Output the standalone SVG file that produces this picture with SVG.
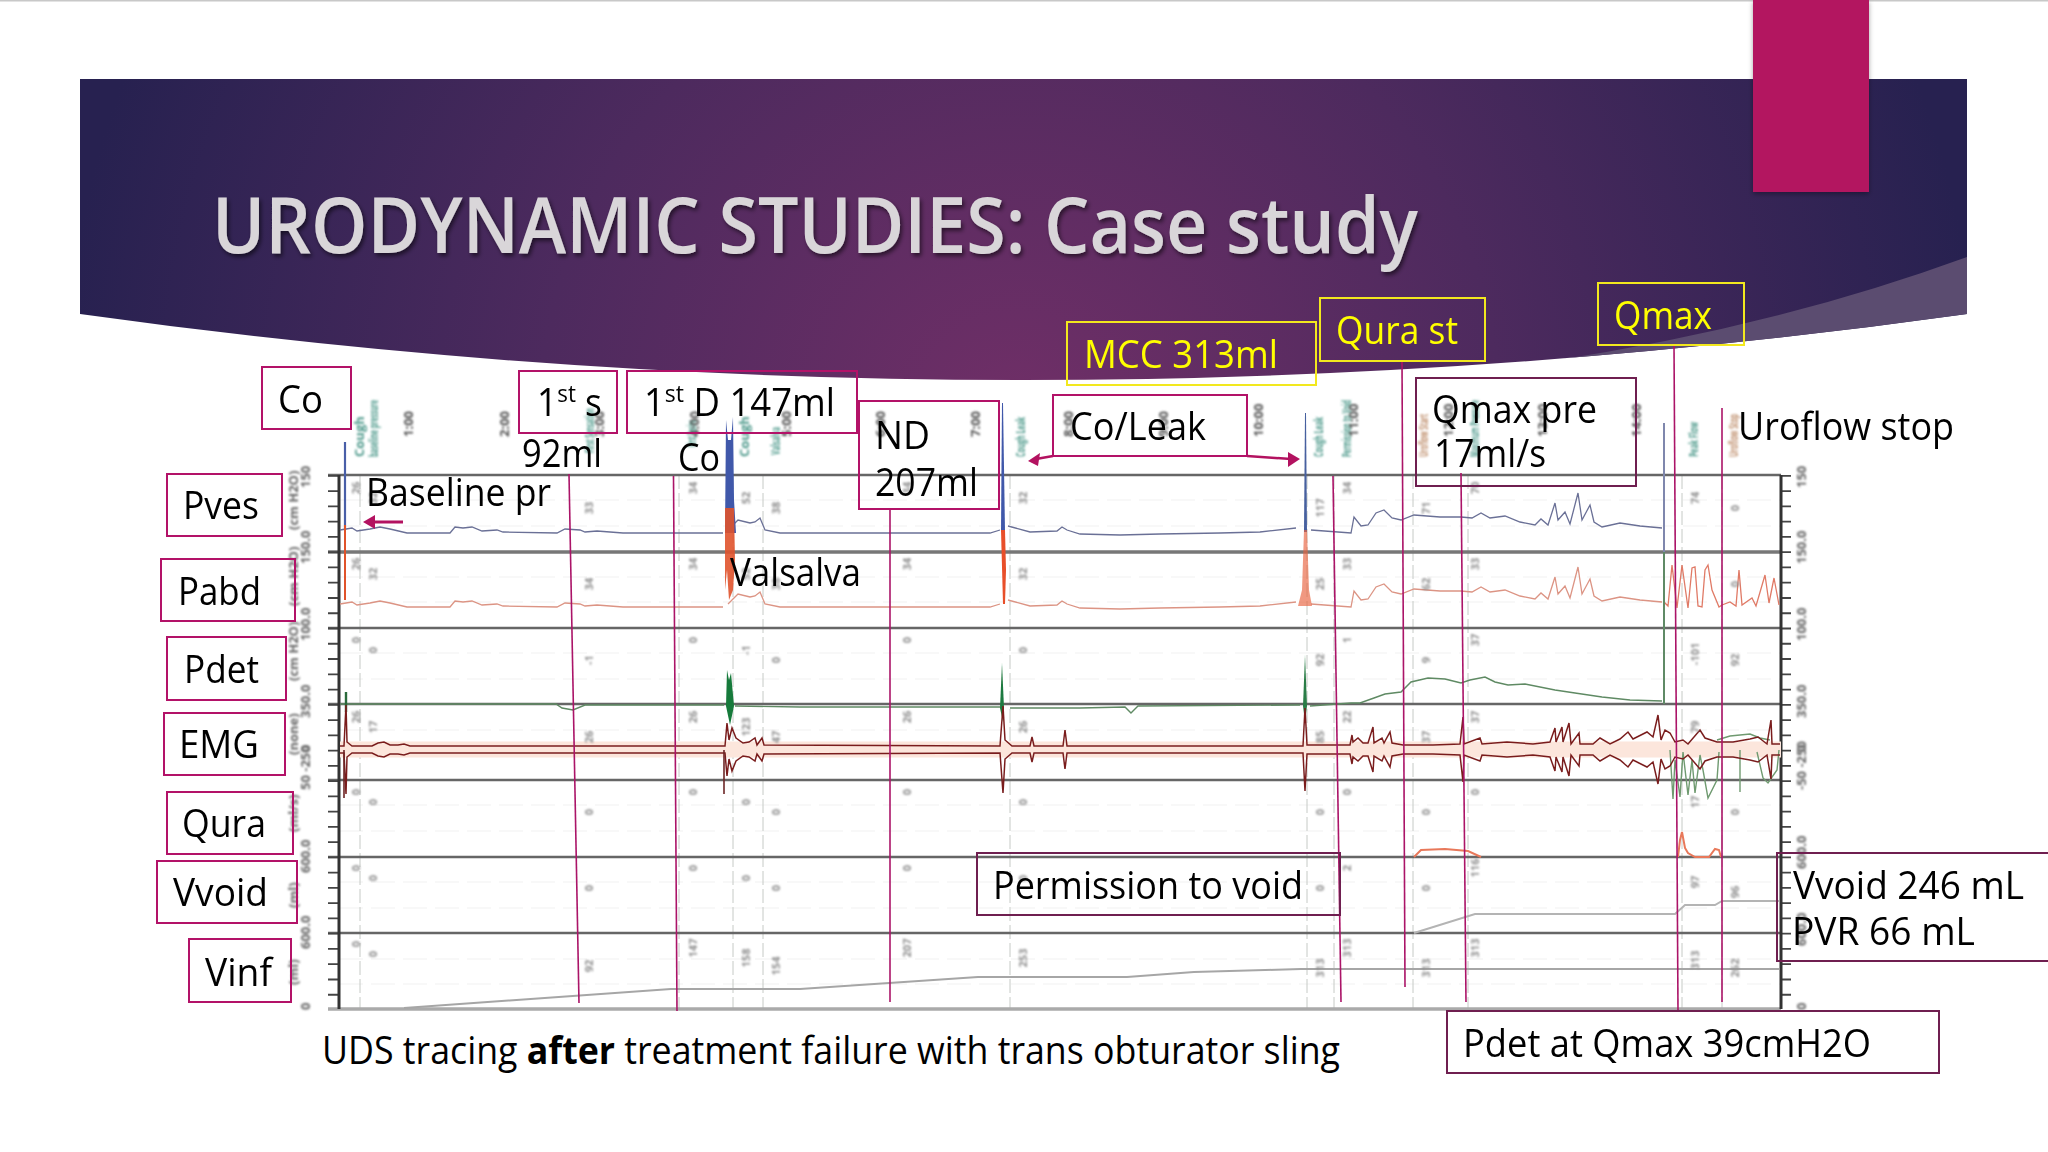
<svg xmlns="http://www.w3.org/2000/svg" xmlns:xlink="http://www.w3.org/1999/xlink" width="2048" height="1152" viewBox="0 0 2048 1152">
<style>
text{font-family:"Open Sans","Noto Sans","Liberation Sans",sans-serif}
.l{font-size:38px;fill:#000;transform:translateY(1px)}
.y{font-size:38px;fill:#ffff00;transform:translateY(1px)}
.b{fill:none;stroke:#b31268;stroke-width:2}
.d{fill:none;stroke:#6f1f50;stroke-width:2}
.yb{fill:none;stroke:#f2e81e;stroke-width:2}
.c{fill:none;stroke:#ab1468;stroke-width:1.6}
.ev{font-size:13px;fill:#4f9a8c;font-weight:700}
.ev2{font-size:13px;fill:#c0906e;font-weight:700}
.tm{font-size:13px;fill:#555;font-weight:700}
.ax{font-size:13px;fill:#666;font-weight:700}
.v{font-size:11px;fill:#8f8f8f;font-weight:700;text-anchor:middle}
.m{stroke:#666;stroke-width:2.4;fill:none}
.das{stroke:#c6cac6;stroke-width:1;stroke-dasharray:14 4;fill:none}
.grid{stroke:#f1f1f1;stroke-width:1;stroke-dasharray:24 8;fill:none}
</style>
<defs>
<radialGradient id="hg" gradientUnits="userSpaceOnUse" cx="1020" cy="420" r="960">
<stop offset="0" stop-color="#702f67"/><stop offset=".5" stop-color="#4d2a5e"/><stop offset="1" stop-color="#272150"/>
</radialGradient>
<clipPath id="hc"><path d="M80,79 H1967 V314 Q1023,446 80,314 Z"/></clipPath>
<filter id="ts" x="-5%" y="-20%" width="110%" height="140%"><feDropShadow dx="2" dy="3" stdDeviation="2" flood-color="#000" flood-opacity=".55"/></filter>
<filter id="tab" x="-10%" y="-10%" width="120%" height="120%"><feDropShadow dx="0" dy="2" stdDeviation="2.5" flood-color="#000" flood-opacity=".35"/></filter>
<filter id="bl"><feGaussianBlur stdDeviation=".6"/></filter>
<filter id="bl2"><feGaussianBlur stdDeviation="1"/></filter>
<path id="tr" d="M340,530 L352,528 357,531 370,529 380,527 390,529 407,533 450,533 455,527 463,528 472,527 482,531 497,530 503,532 557,533 565,529 580,530 585,532 597,531 623,533 723,533 M728,530 733,525 738,520 750,523 755,522 760,518 765,530 780,533 880,533 990,533 1000,530 M1008,526 1030,532 1057,531 1062,527 1067,530 1080,534 1120,535 1160,534 1220,533 1260,532 1296,528 M1311,530 1351,533 1354,517 1361,526 1368,525 1376,513 1384,510 1392,518 1401,520 1414,515 1440,517 1461,517 1472,518 1481,513 1490,518 1505,516 1520,522 1535,525 1541,519 1548,525 1555,503 1558,520 1565,512 1570,524 1578,493 1582,520 1590,505 1594,522 1602,527 1620,523 1640,526 1662,528"/>
<path id="emg" d="M340,746 L344,746 346,705 347,742 352,746 372,746 378,743 384,742 390,745 398,745 404,744 410,746 725,746 727,723 729,740 732,728 736,738 743,743 749,742 755,738 757,745 762,738 764,745 1000,746 1003,706 1005,740 1012,746 1030,746 1032,737 1034,746 1063,746 1065,730 1067,746 1303,746 1305,708 1307,745 1350,745 1352,735 1353,742 1358,738 1363,743 1368,743 1373,727 1374,743 1382,738 1384,743 1390,732 1392,743 1403,745 1433,745 1460,744 1463,717 1464,744 1480,738 1482,744 1507,742 1533,744 1550,742 1555,728 1556,742 1562,727 1563,742 1569,723 1571,744 1579,733 1580,744 1593,744 1600,738 1610,744 1620,739 1628,732 1633,739 1647,732 1653,737 1658,715 1661,740 1665,730 1670,733 1675,742 1683,740 1688,744 1700,730 1705,738 1717,742 1733,742 1750,739 1758,737 1767,744 1771,720 1772,744 1780,744"/>
</defs>

<rect width="2048" height="1152" fill="#fff"/>
<rect x="0" y="0" width="2048" height="1.5" fill="#c8c8c8"/>

<g id="banner">
<path d="M80,79 H1967 V314 Q1023,446 80,314 Z" fill="url(#hg)"/>
<path d="M1967,257 Q1740,340 1470,372 L1470,420 H1967 Z" fill="#5b4c70" clip-path="url(#hc)"/>
<rect x="1753" y="0" width="116" height="192" fill="#b31260" filter="url(#tab)"/>
<text x="212" y="253" font-size="78" font-weight="600" fill="#d9d6d9" filter="url(#ts)" textLength="1206" lengthAdjust="spacingAndGlyphs">URODYNAMIC STUDIES: Case study</text>
</g>

<g id="chart">
<g filter="url(#bl)">
<path class="grid" d="M339,500H1781M339,526H1781M339,577H1781M339,602H1781M339,653H1781M339,679H1781M339,730H1781M339,755H1781M339,805H1781M339,831H1781M339,882H1781M339,908H1781M339,959H1781M339,984H1781"/>
<path class="das" d="M360,475V1009M679,475V1009M733,475V1009M763,475V1009M1010,475V1009M1307,475V1009M1334,475V1009M1413,475V1009M1468,475V1009M1682,475V1009M1722,475V1009"/>
<path class="m" d="M328,475H1781M328,628H1781M328,704H1781M328,780H1781M328,857H1781M328,933H1781"/>
<path d="M328,552H1781" stroke="#777" stroke-width="3.4" fill="none"/>
<path d="M328,1009H1781" stroke="#aaa" stroke-width="3.6" fill="none"/>
<path d="M333.5,475V1009M1785.5,475V1009" stroke="#444" stroke-width="11" stroke-dasharray="1.8 13.46" fill="none"/>
<path d="M339,475V1009M1781,475V1009" stroke="#333" stroke-width="3" fill="none"/>

<!-- Pves / Pabd -->
<use href="#tr" fill="none" stroke="#6a7096" stroke-width="1.3"/>
<use href="#tr" fill="none" stroke="#dc9484" stroke-width="1.3" transform="translate(0,74)"/>
<path d="M345,530V442" stroke="#4a5fa8" stroke-width="2.2" fill="none"/>
<path d="M725,533 L726,420 728,440 731,440 733,417 734,500 736,533 Z" fill="#3f58aa"/>
<path d="M725,508 L734,508 735,560 733,590 729,600 727,570 725,590 Z" fill="#e0532c" opacity=".9"/>
<path d="M1001,532 L1002,403 1003,403 1005,532 Z" fill="#3f58aa"/>
<path d="M1001,530 L1005,530 1006,570 1005,604 1003,604 Z" fill="#e8502a"/>
<path d="M1304,532 L1305,413 1306,413 1307,532 Z" fill="#46609f"/>
<path d="M1304,530 L1307,530 1309,590 1312,606 1298,606 1302,590 Z" fill="#e8623e" opacity=".65"/>
<path d="M345,525V600" stroke="#e0532c" stroke-width="2" fill="none"/>
<path d="M1664,423V552" stroke="#7f87ad" stroke-width="2" fill="none"/>
<path d="M1664,602 L1668,606 1672,565 1677,608 1682,565 1688,608 1692,568 1695,567 1698,606 1702,607 1705,570 1708,565 1712,590 1719,607 1722,605 1730,602 1736,606 1739,570 1742,605 1752,598 1756,606 1765,575 1769,603 1774,578 1779,605" fill="none" stroke="#e07a66" stroke-width="1.3"/>

<!-- Pdet -->
<path d="M340,704 H556 L562,708 573,710 585,705 H724 M735,706 L800,707 1000,707 M1010,708 1080,708 1125,707 1131,713 1138,706 1300,705 M1310,706 1351,703 1360,703 1374,698 1385,694 1401,692 1411,682 1428,678 1445,679 1461,683 1470,680 1485,677 1495,682 1508,685 1525,684 1555,690 1575,693 1602,697 1630,700 1662,701" fill="none" stroke="#5f8a64" stroke-width="1.4"/>
<path d="M346,692V712" stroke="#2c6b3a" stroke-width="2.4" fill="none"/>
<path d="M726,706 L727,670 729,680 731,673 734,706 730,725 Z" fill="#157a3a"/>
<path d="M1000,708 L1002,663 1004,708 1003,722 Z" fill="#1f7a3f"/>
<path d="M1303,706 L1305,655 1307,706 1305,722 Z" fill="#2a7d46"/>
<path d="M1664,552V704" stroke="#5f8a66" stroke-width="2" fill="none"/>

<!-- EMG -->
<path d="M340,749.5H1781" stroke="#fce6dc" stroke-width="16" fill="none"/>
<path d="M1717,740 1730,736 1750,734 1760,738 1770,740M1670,750 1673,799 1675,760 1680,797 1683,752 1688,795 1692,760 1695,793 1700,755 1703,770 1708,798 1717,780 1719,752M1740,750V792M1757,752 1763,778 1768,783 1777,770 1779,750" fill="none" stroke="#6f9a70" stroke-width="1.4"/>
<use href="#emg" fill="none" stroke="#7a1f1f" stroke-width="1.5"/>
<use href="#emg" fill="none" stroke="#7a1f1f" stroke-width="1.5" transform="translate(0,1499) scale(1,-1)"/>
<path d="M724,750V794M344,750V798" stroke="#6d2525" stroke-width="1.6" fill="none"/>

<!-- Qura -->
<path d="M1414,857 L1421,850 1445,849 1468,851 1481,857 M1678,857 L1680,840 1682,832 1685,848 1688,853 1695,857 1709,857 1715,849 1719,850 1721,857" fill="none" stroke="#e8785a" stroke-width="2"/>
<!-- Vvoid / Vinf -->
<path d="M1414,933 L1475,914 H1675 L1685,905 H1715 L1722,901 H1779" fill="none" stroke="#b4b4b4" stroke-width="2"/>
<path d="M404,1008 L671,989 H800 L978,977 H1127 L1194,972 1301,969 H1779" fill="none" stroke="#a6a6a6" stroke-width="2"/>
</g>

<g filter="url(#bl2)">
<!-- time + event labels -->
<text class="ev" transform="translate(364,457) rotate(-90)">Cough</text>
<text class="ev" transform="translate(378,457) rotate(-90)" textLength="57" lengthAdjust="spacingAndGlyphs">baseline pressure</text>
<text class="tm" transform="translate(413,437) rotate(-90)">1:00</text>
<text class="tm" transform="translate(509,437) rotate(-90)">2:00</text>
<text class="ev" transform="translate(594,453) rotate(-90)" textLength="45" lengthAdjust="spacingAndGlyphs">First Sensation</text>
<text class="tm" transform="translate(604,437) rotate(-90)">3:00</text>
<text class="ev" transform="translate(696,447) rotate(-90)" textLength="27" lengthAdjust="spacingAndGlyphs">First Desire</text>
<text class="tm" transform="translate(699,437) rotate(-90)">4:00</text>
<text class="ev" transform="translate(749,457) rotate(-90)">Cough</text>
<text class="ev" transform="translate(780,455) rotate(-90)" textLength="28" lengthAdjust="spacingAndGlyphs">Valsalva</text>
<text class="tm" transform="translate(791,437) rotate(-90)">5:00</text>
<text class="tm" transform="translate(885,437) rotate(-90)">6:00</text>
<text class="tm" transform="translate(980,437) rotate(-90)">7:00</text>
<text class="ev" transform="translate(1025,457) rotate(-90)" textLength="40" lengthAdjust="spacingAndGlyphs">Cough Leak</text>
<text class="tm" transform="translate(1073,437) rotate(-90)">8:00</text>
<text class="tm" transform="translate(1168,437) rotate(-90)">9:00</text>
<text class="tm" transform="translate(1263,437) rotate(-90)">10:00</text>
<text class="ev" transform="translate(1323,457) rotate(-90)" textLength="40" lengthAdjust="spacingAndGlyphs">Cough Leak</text>
<text class="ev" transform="translate(1351,457) rotate(-90)" textLength="57" lengthAdjust="spacingAndGlyphs">Permission to Void</text>
<text class="tm" transform="translate(1358,437) rotate(-90)">11:00</text>
<text class="ev2" transform="translate(1428,457) rotate(-90)" textLength="43" lengthAdjust="spacingAndGlyphs">Uroflow Start</text>
<text class="tm" transform="translate(1453,437) rotate(-90)">12:00</text>
<text class="ev" transform="translate(1479,457) rotate(-90)" textLength="57" lengthAdjust="spacingAndGlyphs">Maximum Pressure</text>
<text class="tm" transform="translate(1547,437) rotate(-90)">13:00</text>
<text class="tm" transform="translate(1641,437) rotate(-90)">14:00</text>
<text class="ev" transform="translate(1698,457) rotate(-90)" textLength="35" lengthAdjust="spacingAndGlyphs">Peak Flow</text>
<text class="ev2" transform="translate(1738,457) rotate(-90)" textLength="43" lengthAdjust="spacingAndGlyphs">Uroflow Stop</text>

<!-- axis scales -->
<text class="ax" transform="translate(310,488) rotate(-90)">150</text>
<text class="ax" transform="translate(310,564) rotate(-90)">150.0</text>
<text class="ax" transform="translate(310,641) rotate(-90)">100.0</text>
<text class="ax" transform="translate(310,718) rotate(-90)">350.0</text>
<text class="ax" transform="translate(310,752) rotate(-90)">0</text>
<text class="ax" transform="translate(310,790) rotate(-90)">50 -250</text>
<text class="ax" transform="translate(310,873) rotate(-90)">600.0</text>
<text class="ax" transform="translate(310,949) rotate(-90)">600.0</text>
<text class="ax" transform="translate(310,1010) rotate(-90)">0</text>
<text class="ax" transform="translate(298,530) rotate(-90)">(cm H2O)</text>
<text class="ax" transform="translate(298,606) rotate(-90)">(cm H2O)</text>
<text class="ax" transform="translate(298,681) rotate(-90)">(cm H2O)</text>
<text class="ax" transform="translate(298,755) rotate(-90)">(none)</text>
<text class="ax" transform="translate(298,832) rotate(-90)">(ml/s)</text>
<text class="ax" transform="translate(298,908) rotate(-90)">(ml)</text>
<text class="ax" transform="translate(298,985) rotate(-90)">(ml)</text>
<text class="ax" transform="translate(1806,488) rotate(-90)">150</text>
<text class="ax" transform="translate(1806,564) rotate(-90)">150.0</text>
<text class="ax" transform="translate(1806,641) rotate(-90)">100.0</text>
<text class="ax" transform="translate(1806,718) rotate(-90)">350.0</text>
<text class="ax" transform="translate(1806,752) rotate(-90)">0</text>
<text class="ax" transform="translate(1806,790) rotate(-90)">-50 -250</text>
<text class="ax" transform="translate(1806,869) rotate(-90)">600.0</text>
<text class="ax" transform="translate(1806,946) rotate(-90)">600.0</text>
<text class="ax" transform="translate(1806,1010) rotate(-90)">0</text>

<!-- event values -->
<text class="v" transform="translate(360,488) rotate(-90)">26</text><text class="v" transform="translate(360,564) rotate(-90)">26</text><text class="v" transform="translate(360,640) rotate(-90)">0</text><text class="v" transform="translate(360,717) rotate(-90)">26</text><text class="v" transform="translate(360,792) rotate(-90)">0</text><text class="v" transform="translate(360,868) rotate(-90)">0</text><text class="v" transform="translate(360,944) rotate(-90)">0</text>
<text class="v" transform="translate(377,498) rotate(-90)">32</text><text class="v" transform="translate(377,574) rotate(-90)">32</text><text class="v" transform="translate(377,650) rotate(-90)">0</text><text class="v" transform="translate(377,727) rotate(-90)">17</text><text class="v" transform="translate(377,802) rotate(-90)">0</text><text class="v" transform="translate(377,878) rotate(-90)">0</text><text class="v" transform="translate(377,954) rotate(-90)">0</text>
<text class="v" transform="translate(593,508) rotate(-90)">33</text><text class="v" transform="translate(593,584) rotate(-90)">34</text><text class="v" transform="translate(593,660) rotate(-90)">-1</text><text class="v" transform="translate(593,737) rotate(-90)">26</text><text class="v" transform="translate(593,812) rotate(-90)">0</text><text class="v" transform="translate(593,888) rotate(-90)">0</text><text class="v" transform="translate(593,966) rotate(-90)">92</text>
<text class="v" transform="translate(697,488) rotate(-90)">34</text><text class="v" transform="translate(697,564) rotate(-90)">34</text><text class="v" transform="translate(697,640) rotate(-90)">0</text><text class="v" transform="translate(697,717) rotate(-90)">26</text><text class="v" transform="translate(697,792) rotate(-90)">0</text><text class="v" transform="translate(697,868) rotate(-90)">0</text><text class="v" transform="translate(697,948) rotate(-90)">147</text>
<text class="v" transform="translate(750,498) rotate(-90)">52</text><text class="v" transform="translate(750,574) rotate(-90)">52</text><text class="v" transform="translate(750,650) rotate(-90)">-1</text><text class="v" transform="translate(750,727) rotate(-90)">123</text><text class="v" transform="translate(750,802) rotate(-90)">0</text><text class="v" transform="translate(750,878) rotate(-90)">0</text><text class="v" transform="translate(750,958) rotate(-90)">158</text>
<text class="v" transform="translate(780,508) rotate(-90)">38</text><text class="v" transform="translate(780,584) rotate(-90)">38</text><text class="v" transform="translate(780,660) rotate(-90)">0</text><text class="v" transform="translate(780,737) rotate(-90)">47</text><text class="v" transform="translate(780,812) rotate(-90)">0</text><text class="v" transform="translate(780,888) rotate(-90)">0</text><text class="v" transform="translate(780,966) rotate(-90)">154</text>
<text class="v" transform="translate(911,488) rotate(-90)">34</text><text class="v" transform="translate(911,564) rotate(-90)">34</text><text class="v" transform="translate(911,640) rotate(-90)">0</text><text class="v" transform="translate(911,717) rotate(-90)">26</text><text class="v" transform="translate(911,792) rotate(-90)">0</text><text class="v" transform="translate(911,868) rotate(-90)">0</text><text class="v" transform="translate(911,948) rotate(-90)">207</text>
<text class="v" transform="translate(1027,498) rotate(-90)">32</text><text class="v" transform="translate(1027,574) rotate(-90)">32</text><text class="v" transform="translate(1027,650) rotate(-90)">0</text><text class="v" transform="translate(1027,727) rotate(-90)">26</text><text class="v" transform="translate(1027,802) rotate(-90)">0</text><text class="v" transform="translate(1027,878) rotate(-90)">0</text><text class="v" transform="translate(1027,958) rotate(-90)">253</text>
<text class="v" transform="translate(1324,508) rotate(-90)">117</text><text class="v" transform="translate(1324,584) rotate(-90)">25</text><text class="v" transform="translate(1324,660) rotate(-90)">92</text><text class="v" transform="translate(1324,737) rotate(-90)">85</text><text class="v" transform="translate(1324,812) rotate(-90)">0</text><text class="v" transform="translate(1324,888) rotate(-90)">0</text><text class="v" transform="translate(1324,968) rotate(-90)">313</text>
<text class="v" transform="translate(1351,488) rotate(-90)">34</text><text class="v" transform="translate(1351,564) rotate(-90)">33</text><text class="v" transform="translate(1351,640) rotate(-90)">1</text><text class="v" transform="translate(1351,717) rotate(-90)">22</text><text class="v" transform="translate(1351,792) rotate(-90)">0</text><text class="v" transform="translate(1351,868) rotate(-90)">2</text><text class="v" transform="translate(1351,948) rotate(-90)">313</text>
<text class="v" transform="translate(1430,508) rotate(-90)">71</text><text class="v" transform="translate(1430,584) rotate(-90)">62</text><text class="v" transform="translate(1430,660) rotate(-90)">9</text><text class="v" transform="translate(1430,737) rotate(-90)">37</text><text class="v" transform="translate(1430,812) rotate(-90)">0</text><text class="v" transform="translate(1430,888) rotate(-90)">0</text><text class="v" transform="translate(1430,968) rotate(-90)">313</text>
<text class="v" transform="translate(1479,488) rotate(-90)">70</text><text class="v" transform="translate(1479,564) rotate(-90)">33</text><text class="v" transform="translate(1479,640) rotate(-90)">37</text><text class="v" transform="translate(1479,717) rotate(-90)">37</text><text class="v" transform="translate(1479,792) rotate(-90)">0</text><text class="v" transform="translate(1479,868) rotate(-90)">116</text><text class="v" transform="translate(1479,948) rotate(-90)">313</text>
<text class="v" transform="translate(1699,498) rotate(-90)">74</text><text class="v" transform="translate(1699,654) rotate(-90)">-101</text><text class="v" transform="translate(1699,727) rotate(-90)">79</text><text class="v" transform="translate(1699,802) rotate(-90)">17</text><text class="v" transform="translate(1699,882) rotate(-90)">97</text><text class="v" transform="translate(1699,960) rotate(-90)">313</text>
<text class="v" transform="translate(1739,508) rotate(-90)">0</text><text class="v" transform="translate(1739,584) rotate(-90)">0</text><text class="v" transform="translate(1739,660) rotate(-90)">92</text><text class="v" transform="translate(1739,812) rotate(-90)">0</text><text class="v" transform="translate(1739,892) rotate(-90)">96</text><text class="v" transform="translate(1739,968) rotate(-90)">262</text>
</g>
</g>

<g id="connectors">
<path class="c" d="M569,474L579,1003"/>
<path class="c" d="M673.5,476L677,1011"/>
<path class="c" d="M890,509V1002"/>
<path class="c" d="M1333,476L1341,1002"/>
<path class="c" d="M1402,361L1405,987"/>
<path class="c" d="M1461,473L1466,1002"/>
<path class="c" d="M1674,345L1678,1011"/>
<path class="c" d="M1722,408V1002"/>
<path d="M403,522H374" stroke="#b31260" stroke-width="3" fill="none"/>
<path d="M363,522L375,515V529Z" fill="#b31260"/>
<path d="M1053,456L1036,459" stroke="#b31260" stroke-width="2.5" fill="none"/>
<path d="M1028,461L1040,453 1038,466Z" fill="#b31260"/>
<path d="M1247,456L1291,459" stroke="#b31260" stroke-width="2.5" fill="none"/>
<path d="M1300,459L1288,452V467Z" fill="#b31260"/>
</g>

<g id="n-co"><rect class="b" x="262" y="367" width="89" height="62"/><text class="l" x="278" y="412" textLength="45" lengthAdjust="spacingAndGlyphs">Co</text></g>
<g id="n-first-s"><rect class="b" x="519" y="371" width="98" height="62"/><text class="l" x="537" y="415" textLength="65" lengthAdjust="spacingAndGlyphs">1<tspan font-size="24" dy="-14">st</tspan><tspan dy="14"> s</tspan></text><text class="l" x="522" y="466" textLength="80" lengthAdjust="spacingAndGlyphs">92ml</text></g>
<g id="n-first-d"><rect class="b" x="627" y="371" width="230" height="62"/><text class="l" x="644" y="415" textLength="191" lengthAdjust="spacingAndGlyphs">1<tspan font-size="24" dy="-14">st</tspan><tspan dy="14"> D 147ml</tspan></text><text class="l" x="678" y="470" textLength="42" lengthAdjust="spacingAndGlyphs">Co</text></g>
<g id="n-nd"><rect class="b" x="859" y="401" width="140" height="108"/><text class="l" x="875" y="448" textLength="55" lengthAdjust="spacingAndGlyphs">ND</text><text class="l" x="875" y="495" textLength="103" lengthAdjust="spacingAndGlyphs">207ml</text></g>
<g id="n-coleak"><rect class="b" x="1053" y="395" width="194" height="61"/><text class="l" x="1070" y="439" textLength="136" lengthAdjust="spacingAndGlyphs">Co/Leak</text></g>
<g id="n-mcc"><rect class="yb" x="1067" y="322" width="249" height="63"/><text class="y" x="1084" y="367" textLength="194" lengthAdjust="spacingAndGlyphs">MCC 313ml</text></g>
<g id="n-qurast"><rect class="yb" x="1320" y="298" width="165" height="63"/><text class="y" x="1336" y="343" textLength="122" lengthAdjust="spacingAndGlyphs">Qura st</text></g>
<g id="n-qmax"><rect class="yb" x="1598" y="283" width="146" height="62"/><text class="y" x="1614" y="328" textLength="98" lengthAdjust="spacingAndGlyphs">Qmax</text></g>
<g id="n-qmaxpre"><rect class="d" x="1416" y="378" width="220" height="108"/><text class="l" x="1432" y="422" textLength="165" lengthAdjust="spacingAndGlyphs">Qmax pre</text><text class="l" x="1434" y="466" textLength="112" lengthAdjust="spacingAndGlyphs">17ml/s</text></g>
<g id="n-uroflow"><text class="l" x="1738" y="439" textLength="216" lengthAdjust="spacingAndGlyphs">Uroflow stop</text></g>
<g id="n-baseline"><text class="l" x="366" y="505" textLength="185" lengthAdjust="spacingAndGlyphs">Baseline pr</text></g>
<g id="n-valsalva"><text class="l" x="730" y="585" textLength="131" lengthAdjust="spacingAndGlyphs">Valsalva</text></g>
<g id="n-pves"><rect class="b" x="167" y="474" width="115" height="62"/><text class="l" x="183" y="518" textLength="76" lengthAdjust="spacingAndGlyphs">Pves</text></g>
<g id="n-pabd"><rect class="b" x="161" y="559" width="134" height="62"/><text class="l" x="178" y="604" textLength="83" lengthAdjust="spacingAndGlyphs">Pabd</text></g>
<g id="n-pdet"><rect class="b" x="167" y="637" width="119" height="63"/><text class="l" x="184" y="682" textLength="75" lengthAdjust="spacingAndGlyphs">Pdet</text></g>
<g id="n-emg"><rect class="b" x="164" y="713" width="121" height="62"/><text class="l" x="179" y="757" textLength="80" lengthAdjust="spacingAndGlyphs">EMG</text></g>
<g id="n-qura"><rect class="b" x="167" y="792" width="126" height="62"/><text class="l" x="182" y="836" textLength="84" lengthAdjust="spacingAndGlyphs">Qura</text></g>
<g id="n-vvoid"><rect class="b" x="157" y="861" width="140" height="62"/><text class="l" x="173" y="905" textLength="95" lengthAdjust="spacingAndGlyphs">Vvoid</text></g>
<g id="n-vinf"><rect class="b" x="189" y="939" width="102" height="63"/><text class="l" x="205" y="985" textLength="67" lengthAdjust="spacingAndGlyphs">Vinf</text></g>
<g id="n-permission"><rect class="d" x="977" y="853" width="363" height="62"/><text class="l" x="993" y="898" textLength="310" lengthAdjust="spacingAndGlyphs">Permission to void</text></g>
<g id="n-vvoid246"><path class="d" d="M2048,853H1777V961H2048"/><text class="l" x="1793" y="898" textLength="231" lengthAdjust="spacingAndGlyphs">Vvoid 246 mL</text><text class="l" x="1792" y="944" textLength="183" lengthAdjust="spacingAndGlyphs">PVR 66 mL</text></g>
<g id="n-pdetqmax"><rect class="d" x="1447" y="1011" width="492" height="62"/><text class="l" x="1463" y="1056" textLength="408" lengthAdjust="spacingAndGlyphs">Pdet at Qmax 39cmH2O</text></g>
<g id="n-caption"><text class="l" x="322" y="1063" textLength="1018" lengthAdjust="spacingAndGlyphs">UDS tracing <tspan font-weight="700">after</tspan> treatment failure with trans obturator sling</text></g>
</svg>
